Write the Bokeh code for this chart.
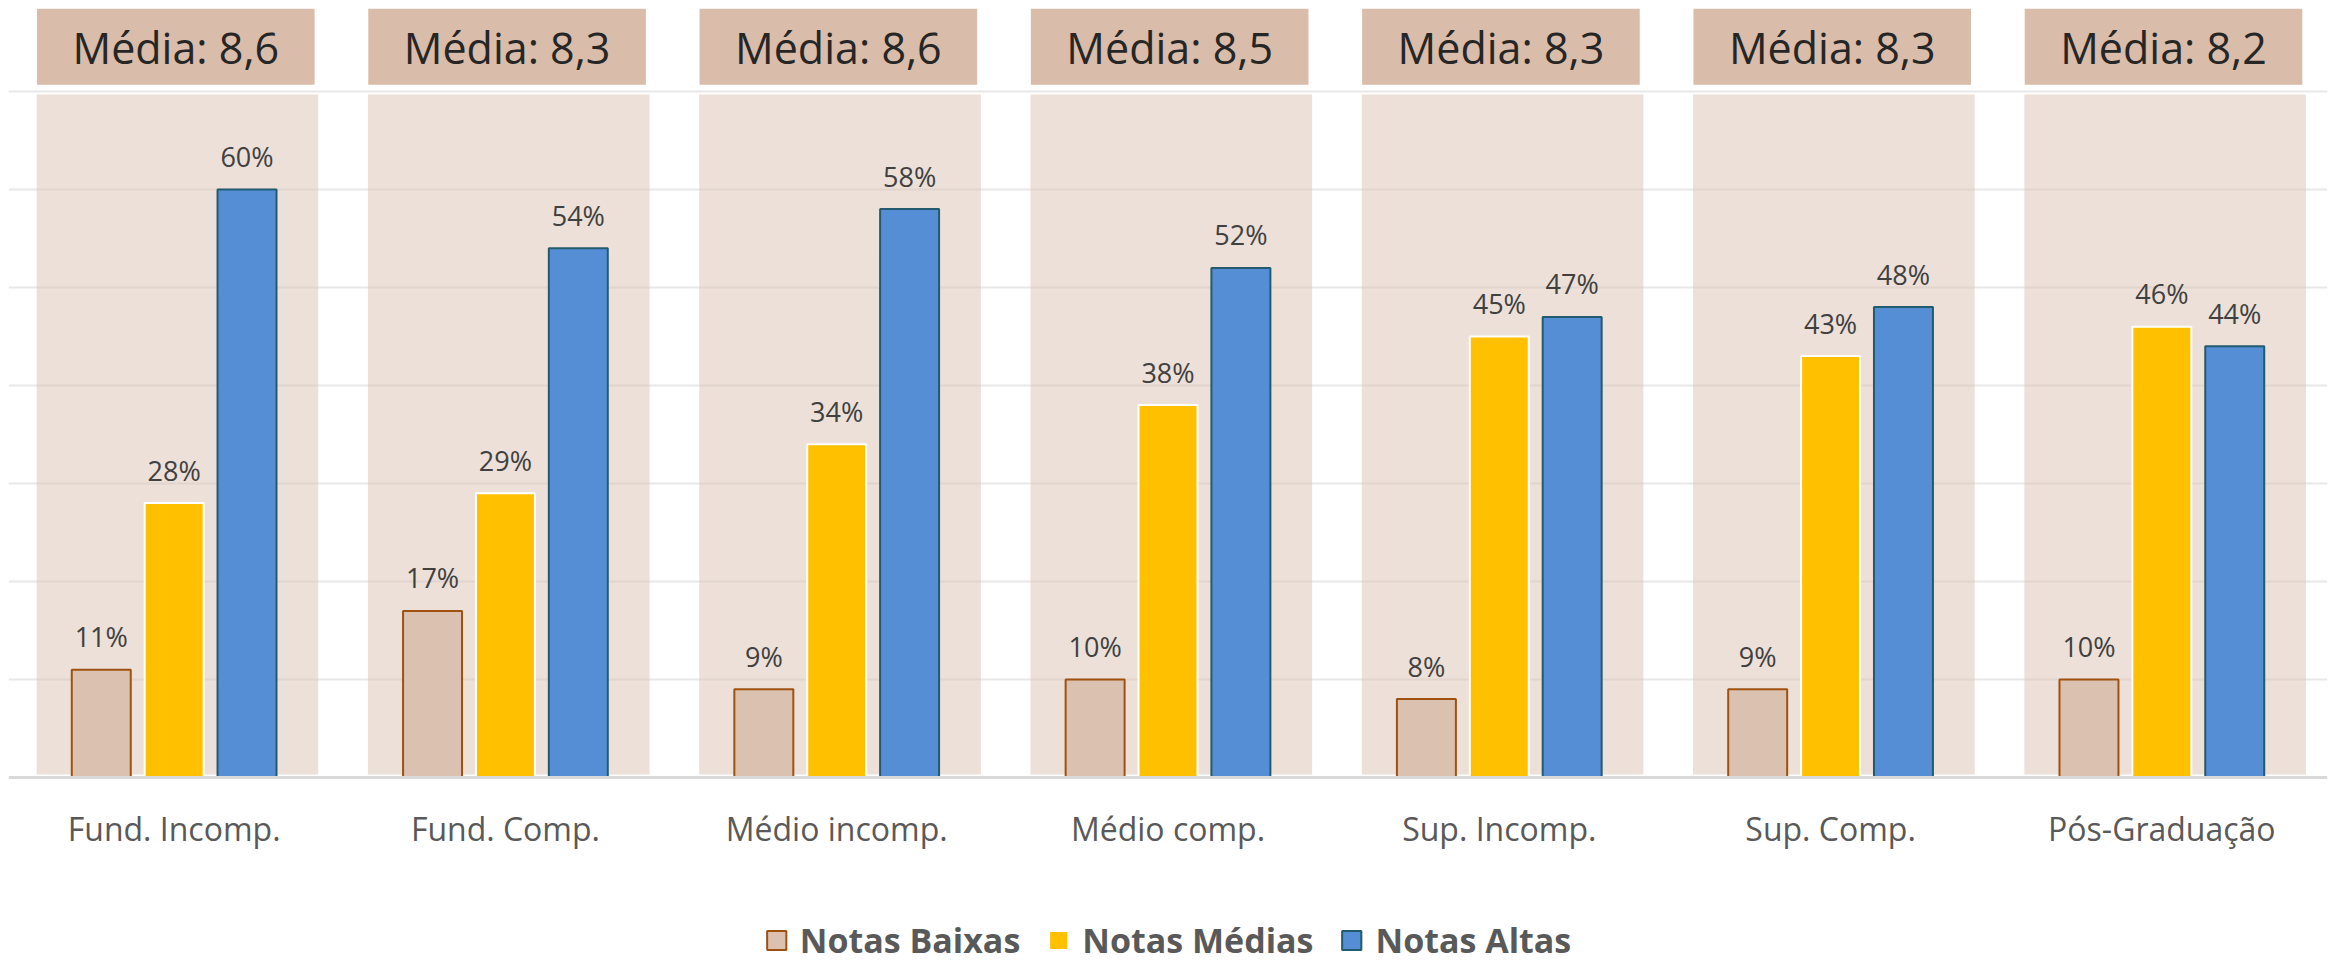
from bokeh.plotting import figure
from bokeh.models import FactorRange, Range1d, FixedTicker, Legend, LegendItem, ColumnDataSource, Span
from bokeh.transform import dodge
from bokeh.core.properties import value
from bokeh.embed import file_html
from bokeh.resources import INLINE

categories = ["Fund. Incomp.", "Fund. Comp.", "Médio incomp.", "Médio comp.",
              "Sup. Incomp.", "Sup. Comp.", "Pós-Graduação"]
notas_baixas = [11, 17, 9, 10, 8, 9, 10]
notas_medias = [28, 29, 34, 38, 45, 43, 46]
notas_altas = [60, 54, 58, 52, 47, 48, 44]
media_geral = ["8,6", "8,3", "8,6", "8,5", "8,3", "8,3", "8,2"]
series_names = ["Notas Baixas", "Notas Médias", "Notas Altas"]

FONT = value("Open Sans")
Y_TOP = 78.47
Y_BOTTOM = -18.98

src = ColumnDataSource(dict(
    cat=categories,
    baixas=notas_baixas,
    medias=notas_medias,
    altas=notas_altas,
    baixas_lbl=[f"{v}%" for v in notas_baixas],
    medias_lbl=[f"{v}%" for v in notas_medias],
    altas_lbl=[f"{v}%" for v in notas_altas],
    media_lbl=[f"Média: {m}" for m in media_geral],
))

p = figure(x_range=FactorRange(*categories, range_padding=0, factor_padding=0),
           y_range=Range1d(Y_BOTTOM, Y_TOP),
           width=2336, height=963, output_backend="svg", toolbar_location=None,
           min_border_left=8, min_border_right=9, min_border_top=8, min_border_bottom=0)
p.outline_line_color = None
p.background_fill_color = "white"
p.xaxis.visible = False
p.yaxis.visible = False

# grid
p.ygrid.ticker = FixedTicker(ticks=[10, 20, 30, 40, 50, 60, 70])
p.ygrid.grid_line_color = "#E8E8E8"
p.ygrid.grid_line_width = 2
p.xgrid.grid_line_color = None

# shaded background per category
p.vbar(x=dodge("cat", 0.01, range=p.x_range), top=69.7, bottom=0.3, width=0.85, source=src,
       fill_color="#D9C2B2", fill_alpha=0.5, line_color=None)
# header boxes
p.vbar(x=dodge("cat", 0.005, range=p.x_range), top=Y_TOP, bottom=70.7, width=0.838, source=src,
       fill_color="#D9BCA9", line_color=None)
p.text(x=dodge("cat", 0.005, range=p.x_range), y=72.96, text="media_lbl", source=src,
       text_font=FONT, text_font_size="43px", text_color="#262626", text_align="center",
       text_baseline="alphabetic", y_offset=-15)

off = 0.22
bw = 0.178
r1 = p.vbar(x=dodge("cat", -off, range=p.x_range), top="baixas", width=bw, source=src,
            fill_color="#DBC2B0", line_color="#A0510F", line_width=2)
r2 = p.vbar(x=dodge("cat", 0, range=p.x_range), top="medias", width=bw, source=src,
            fill_color="#FFC000", line_color="white", line_width=2)
r3 = p.vbar(x=dodge("cat", off, range=p.x_range), top="altas", width=bw, source=src,
            fill_color="#558ED5", line_color="#235B6E", line_width=2)

# category axis line and labels
p.add_layout(Span(location=0, dimension="width", line_color="#D9D9D9", line_width=3))
p.text(x="cat", y=0, text="cat", source=src, text_font=FONT, text_font_size="32px",
       text_color="#595959", text_align="center", text_baseline="alphabetic", y_offset=51)

for dx, col in [(-off, "baixas"), (0, "medias"), (off, "altas")]:
    p.text(x=dodge("cat", dx, range=p.x_range), y=col, text=col + "_lbl", source=src,
           text_font=FONT, text_font_size="27px", text_color="#404040",
           text_align="center", text_baseline="alphabetic", y_offset=-33)

legend = Legend(items=[LegendItem(label=series_names[0], renderers=[r1]),
                       LegendItem(label=series_names[1], renderers=[r2]),
                       LegendItem(label=series_names[2], renderers=[r3])],
                orientation="horizontal", location="bottom_center",
                label_text_font="Open Sans", label_text_font_style="bold",
                label_text_font_size="34px", label_text_color="#595959",
                glyph_width=24, glyph_height=24, spacing=26, label_standoff=12,
                border_line_color=None, background_fill_alpha=0, padding=0, margin=0)
p.add_layout(legend, "center")

open("out.html", "w").write(file_html(p, INLINE))
